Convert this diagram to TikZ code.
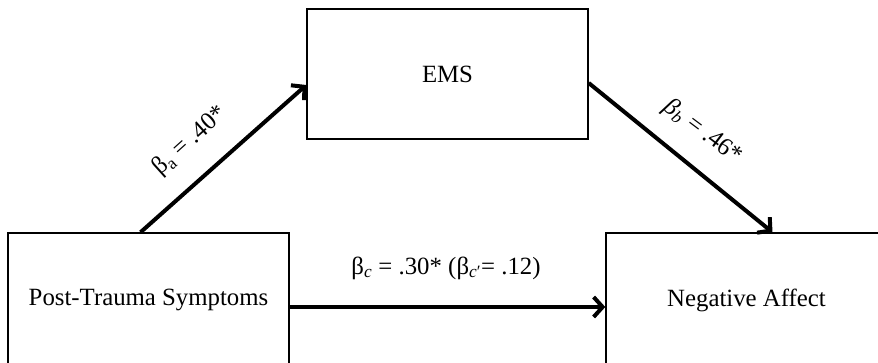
\documentclass[tikz,border=0pt]{standalone}
\usepackage{fontspec}
\setmainfont{Liberation Serif}
\usetikzlibrary{arrows.meta}
\newcommand\mysub[1]{\textsubscript{#1}}
\begin{document}
\begin{tikzpicture}[x=1pt,y=-1pt,
  box/.style={draw=black,line width=1.4pt,minimum width=281pt,minimum height=134pt,inner sep=0pt,
    font=\fontsize{24.8}{30}\selectfont},
  path/.style={line width=4pt,-{Straight Barb[length=9pt,width=20pt,line width=4pt]}},
  lbl/.style={font=\fontsize{24.8}{30}\selectfont,inner sep=0pt}]
\clip (0,0) rectangle (878,363);
\fill[white] (0,0) rectangle (878,363);
\node[box,minimum height=130pt] (ems) at (447.5,74) {EMS};
\node[box] (pts) at (148.5,300) {Post-Trauma Symptoms};
\node[box] (na) at (746.5,300) {Negative Affect};
\draw[path] ([xshift=-8pt]pts.north) -- ([yshift=-11pt]ems.west);
\draw[path] ([yshift=-9pt]ems.east) -- ([xshift=26pt]na.north);
\draw[path] ([yshift=-7pt]pts.east) -- ([yshift=-7pt]na.west);
\node[lbl,rotate=42] (la) at (190,141) {β\mysub{a} = .40*};
\node[lbl,rotate=-37] (lb) at (703,132) {\textit{β}\mysub{\textit{b}} = .46*};
\node[lbl] (lc) at (446,268) {β\mysub{\textit{c}} = .30* (β\mysub{\textit{c}′}= .12)};
\end{tikzpicture}
\end{document}
